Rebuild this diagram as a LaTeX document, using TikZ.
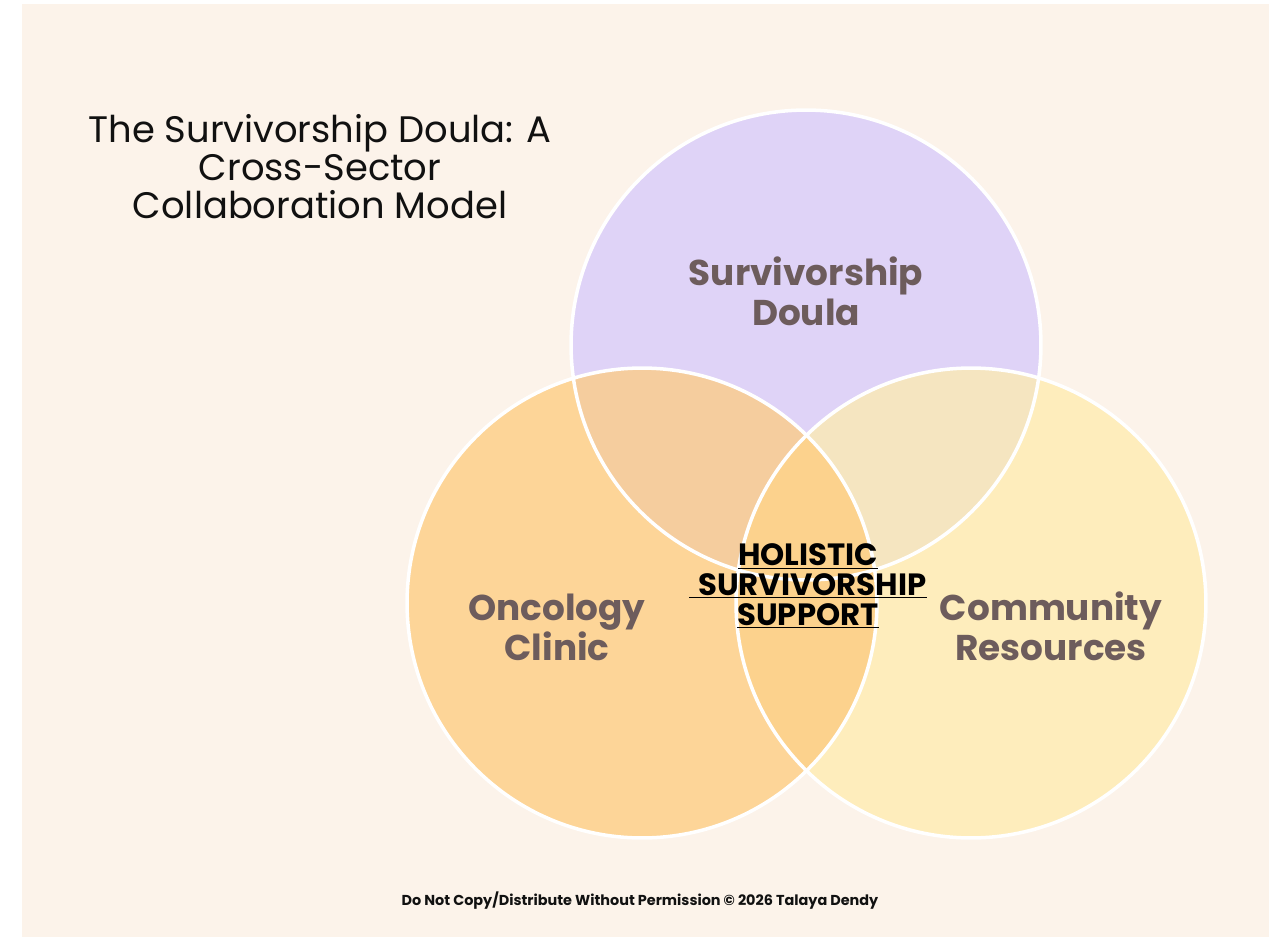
\documentclass[tikz,border=0pt]{standalone}
\usepackage{fontspec}
\setmainfont{Poppins}
\definecolor{bgc}{HTML}{FCF3EA}
\definecolor{lav}{HTML}{DFD3F7}
\definecolor{peach}{HTML}{FDD598}
\definecolor{yel}{HTML}{FEEDBC}
\definecolor{tlc}{HTML}{F5CD9E}
\definecolor{trc}{HTML}{F5E5C0}
\definecolor{lrc}{HTML}{FCD28D}
\definecolor{lab}{HTML}{6D5C5C}
\definecolor{ink}{HTML}{111111}
\tikzset{
  circlabel/.style={align=center, anchor=base, text=lab, font=\fontsize{20.4}{22.5}\selectfont\bfseries, inner sep=0pt},
  ring/.style={draw=white, line width=2pt},
}
\begin{document}
\begin{tikzpicture}[x=0.02cm,y=-0.02cm]
\useasboundingbox (0,0) rectangle (1269,937);
\fill[bgc] (22,4) rectangle (1269,937);
\coordinate (T) at (806,345);
\coordinate (L) at (642,603);
\coordinate (R) at (971,603);
\def\rad{4.7cm}
\fill[lav] (T) circle[radius=\rad];
\fill[peach] (L) circle[radius=\rad];
\fill[yel] (R) circle[radius=\rad];
\begin{scope}
  \clip (T) circle[radius=\rad];
  \fill[tlc] (L) circle[radius=\rad];
  \fill[trc] (R) circle[radius=\rad];
\end{scope}
\begin{scope}
  \clip (L) circle[radius=\rad];
  \fill[lrc] (R) circle[radius=\rad];
\end{scope}
\draw[ring] (T) circle[radius=\rad];
\draw[ring] (L) circle[radius=\rad];
\draw[ring] (R) circle[radius=\rad];

\node[align=center, anchor=base, text=ink, inner sep=0pt, font=\fontsize{21}{21.6}\selectfont] (title) at (320,218)
  {The Survivorship Doula: A\\Cross-Sector\\Collaboration Model};

\node[circlabel] (doula) at (806,325) {Survivorship\\Doula};
\node[circlabel] (onc) at (557,660) {Oncology\\Clinic};
\node[circlabel] (comm) at (1051,660) {Community\\Resources};

\node[align=center, anchor=base, text=black, inner sep=0pt, font=\fontsize{17.5}{17}\selectfont\bfseries] (hol) at (808,625)
  {\underline{HOLISTIC}\\\underline{\hspace{5pt}SURVIVORSHIP}\\\underline{SUPPORT}};

\node[anchor=base, text=ink, inner sep=0pt, font=\fontsize{8.2}{9}\selectfont\bfseries] (foot) at (640,905)
  {Do Not Copy/Distribute Without Permission © 2026 Talaya Dendy};
\end{tikzpicture}
\end{document}
